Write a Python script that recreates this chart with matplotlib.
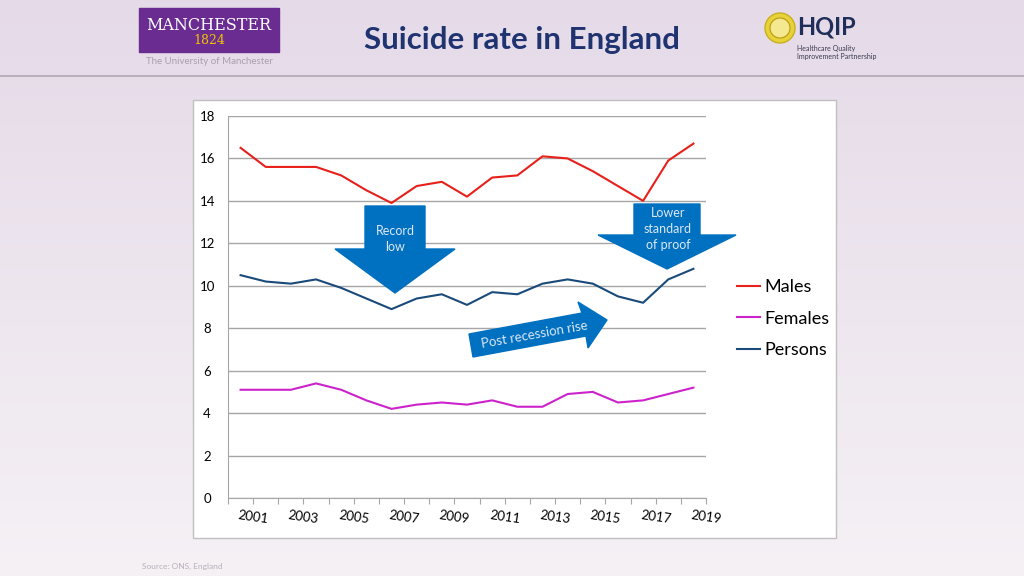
import numpy as np
import matplotlib
matplotlib.use('Agg')
from matplotlib import pyplot as plt
from matplotlib.patches import Polygon, Rectangle, Circle

years = list(range(2001, 2020))
males = [16.5, 15.6, 15.6, 15.6, 15.2, 14.5, 13.9, 14.7, 14.9, 14.2,
         15.1, 15.2, 16.1, 16.0, 15.4, 14.7, 14.0, 15.9, 16.7]
females = [5.1, 5.1, 5.1, 5.4, 5.1, 4.6, 4.2, 4.4, 4.5, 4.4,
           4.6, 4.3, 4.3, 4.9, 5.0, 4.5, 4.6, 4.9, 5.2]
persons = [10.5, 10.2, 10.1, 10.3, 9.9, 9.4, 8.9, 9.4, 9.6, 9.1,
           9.7, 9.6, 10.1, 10.3, 10.1, 9.5, 9.2, 10.3, 10.8]
y_ticks = [0, 2, 4, 6, 8, 10, 12, 14, 16, 18]

plt.rcParams['font.family'] = ['Lato', 'DejaVu Sans']

W, H = 1024, 576
fig = plt.figure(figsize=(W / 100, H / 100), dpi=100)

# slide background
bg = fig.add_axes([0, 0, 1, 1], zorder=-10)
grad = np.linspace(0, 1, 256).reshape(-1, 1)
cols = np.array([[0.90, 0.855, 0.91], [0.96, 0.945, 0.96]])
img = cols[0] + (cols[1] - cols[0]) * grad[..., None] * np.ones((1, 1, 3))
bg.imshow(img, aspect='auto', extent=[0, W, H, 0])
bg.set_xlim(0, W)
bg.set_ylim(H, 0)
bg.axis('off')
bg.axhline(76, color='#b0a8b2', lw=1.2)

# Manchester logo
bg.add_patch(Rectangle((139, 8), 140, 44, color='#6a2c91'))
bg.text(209, 25, 'MANCHESTER', color='white', fontsize=11.5, family='DejaVu Serif',
        ha='center', va='center')
bg.text(209, 41, '1824', color='#f2c200', fontsize=9, family='DejaVu Serif',
        ha='center', va='center')
bg.text(209, 61, 'The University of Manchester', color='#a8a0ac', fontsize=7,
        ha='center', va='center')

# HQIP logo
bg.add_patch(Circle((780, 28), 15, color='#e8d23a', ec='#c8b020', lw=1))
bg.add_patch(Circle((780, 28), 10, color='#f4e890', ec='#b89a10', lw=0.8))
bg.text(797, 27, 'HQIP', color='#1f2f5a', fontsize=17, fontweight='bold',
        ha='left', va='center')
bg.text(797, 49, 'Healthcare Quality', color='#3a3a50', fontsize=5, ha='left', va='center')
bg.text(797, 57, 'Improvement Partnership', color='#3a3a50', fontsize=5, ha='left', va='center')

# title
bg.text(522, 40, 'Suicide rate in England', color='#1f3370', fontsize=22.5,
        fontweight='bold', ha='center', va='center')

# source
bg.text(142, 566, 'Source: ONS, England', color='#b8b0bc', fontsize=6,
        ha='left', va='center')

# chart box
bg.add_patch(Rectangle((193, 100), 643, 438, facecolor='white',
                       edgecolor='#c0c0c0', lw=1, zorder=1))

ax = fig.add_axes([228 / W, 1 - 498 / H, 478 / W, 382 / H], zorder=2)
ax.patch.set_alpha(0)
x = np.arange(len(years))
ax.plot(x, males, color='#e8201a', lw=1.5, label='Males', zorder=3)
ax.plot(x, females, color='#cc22cc', lw=1.5, label='Females', zorder=3)
ax.plot(x, persons, color='#1a4a7a', lw=1.5, label='Persons', zorder=3)

ax.set_xlim(-0.5, len(years) - 0.5)
ax.set_ylim(0, 18)
ax.set_yticks(y_ticks)
ax.set_yticklabels([str(v) for v in y_ticks], fontsize=9.5)
ax.tick_params(axis='y', length=0, pad=15)
for lbl in ax.get_yticklabels():
    lbl.set_horizontalalignment('center')
ax.yaxis.grid(True, color='#a6a6a6', lw=1)
ax.set_axisbelow(True)

ax.set_xticks(np.arange(-0.5, len(years)), minor=False)
ax.set_xticklabels([])
ax.tick_params(axis='x', length=4, color='#a6a6a6', direction='out')
for i, yr in enumerate(years):
    if i % 2 == 0:
        ax.text(i + 0.5, -0.5, str(yr), rotation=-8, ha='center', va='top',
                fontsize=9.5, transform=ax.transData)

for s in ['top', 'right']:
    ax.spines[s].set_visible(False)
ax.spines['left'].set_color('#a6a6a6')
ax.spines['bottom'].set_color('#a6a6a6')

ax.legend(loc='upper left', bbox_to_anchor=(1.03, 0.615), frameon=False,
          fontsize=13, handlelength=1.3, handletextpad=0.25, labelspacing=0.85)

# arrows (slide annotations, in pixel coordinates)
ov = fig.add_axes([0, 0, 1, 1], zorder=5)
ov.set_xlim(0, W)
ov.set_ylim(H, 0)
ov.axis('off')
arrow_col = '#0070c0'
txt_col = '#dde8f4'

ov.add_patch(Polygon([(365, 206), (425, 206), (425, 249), (455, 249), (395, 293),
                      (335, 249), (365, 249)], closed=True, color=arrow_col))
ov.text(395, 239, 'Record\nlow', color=txt_col, fontsize=9, ha='center', va='center',
        linespacing=1.35)

ov.add_patch(Polygon([(634, 204), (700, 204), (700, 235), (736, 235), (667, 269),
                      (598, 235), (634, 235)], closed=True, color=arrow_col))
ov.text(668, 229, 'Lower\nstandard\nof proof', color=txt_col, fontsize=9,
        ha='center', va='center', linespacing=1.4)

ov.add_patch(Polygon([(469, 334), (582, 313), (578, 302), (607, 320), (588, 348),
                      (586, 336), (473, 357)], closed=True, color=arrow_col))
ov.text(534, 335, 'Post recession rise', color=txt_col, fontsize=9.5, ha='center',
        va='center', rotation=10)

fig.savefig('out.png', dpi=100)
